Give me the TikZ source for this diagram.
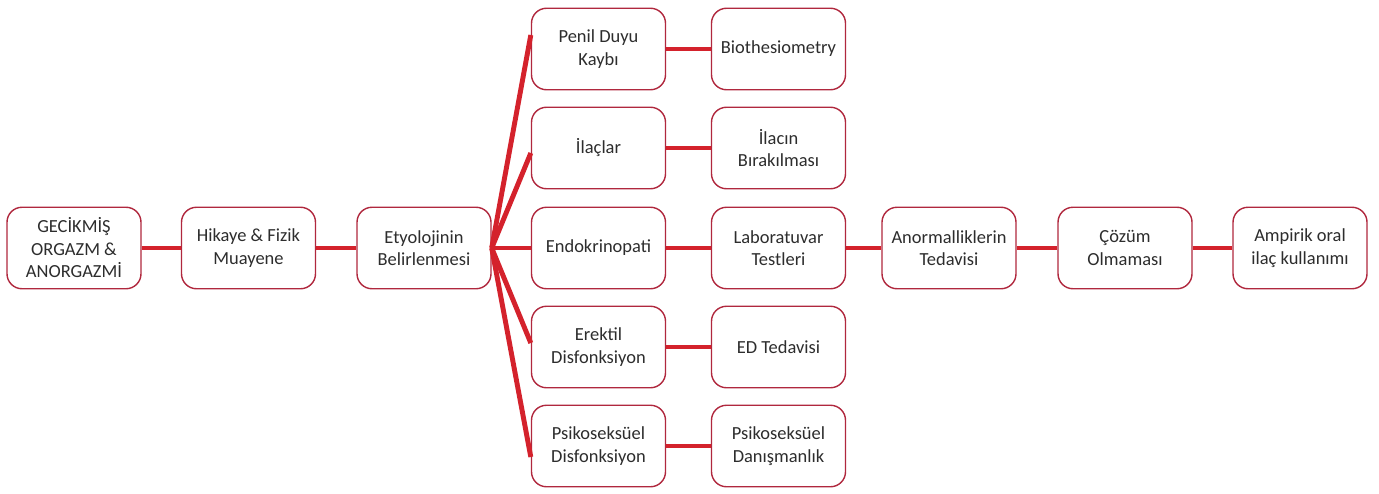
\documentclass[tikz,border=0pt]{standalone}
\usepackage{fontspec}
\setmainfont{Carlito}
\usepackage{tikz}
\definecolor{boxred}{RGB}{176,40,62}
\definecolor{linkred}{RGB}{212,34,44}
\definecolor{txtgray}{RGB}{45,45,45}
\tikzset{box/.style={draw=boxred, line width=0.8pt, rounded corners=0.3cm, fill=white,
    minimum width=2.68cm, minimum height=1.63cm, align=center, text=txtgray,
    font=\fontsize{10.5pt}{12.8pt}\selectfont}}
\tikzset{link/.style={draw=linkred, line width=2.8pt}}

\begin{document}
\begin{tikzpicture}
    \useasboundingbox (0, 0) rectangle (27.58, 9.86);
    \node[box] (gecikmis) at (1.48, 4.90) {GEC\.{I}KM\.{I}Ş\\ORGAZM \&\\ANORGAZM\.{I}};
    \node[box] (hikaye) at (4.97, 4.90) {Hikaye \& Fizik\\Muayene};
    \node[box] (etyoloji) at (8.48, 4.90) {Etyolojinin\\Belirlenmesi};
    \node[box] (penil) at (11.97, 8.88) {Penil Duyu\\Kaybı};
    \node[box] (ilaclar) at (11.97, 6.90) {\.{I}laçlar};
    \node[box] (endo) at (11.97, 4.90) {Endokrinopati};
    \node[box] (erektil) at (11.97, 2.92) {Erektil\\Disfonksiyon};
    \node[box] (psiko) at (11.97, 0.94) {Psikoseksüel\\Disfonksiyon};
    \node[box] (bio) at (15.57, 8.88) {Biothesiometry};
    \node[box] (birakma) at (15.57, 6.90) {\.{I}lacın\\Bırakılması};
    \node[box] (lab) at (15.57, 4.90) {Laboratuvar\\Testleri};
    \node[box] (edtedavi) at (15.57, 2.92) {ED Tedavisi};
    \node[box] (danisma) at (15.57, 0.94) {Psikoseksüel\\Danışmanlık};
    \node[box] (anormal) at (18.98, 4.90) {Anormalliklerin\\Tedavisi};
    \node[box] (cozum) at (22.50, 4.90) {Çözüm\\Olmaması};
    \node[box] (ampirik) at (26.00, 4.90) {Ampirik oral\\ilaç kullanımı};
    % main chain
    \draw[link] (gecikmis) -- (hikaye);
    \draw[link] (hikaye) -- (etyoloji);
    \draw[link] (etyoloji) -- (endo);
    \draw[link] (endo) -- (lab);
    \draw[link] (lab) -- (anormal);
    \draw[link] (anormal) -- (cozum);
    \draw[link] (cozum) -- (ampirik);
    % fan to causes
    \draw[link] (etyoloji.east) -- ([yshift=0.28cm]penil.west);
    \draw[link] (etyoloji.east) -- ([yshift=-0.1cm]ilaclar.west);
    \draw[link] (etyoloji.east) -- ([yshift=0.08cm]erektil.west);
    \draw[link] (etyoloji.east) -- ([yshift=-0.22cm]psiko.west);
    % causes to tests
    \draw[link] (penil) -- (bio);
    \draw[link] (ilaclar) -- (birakma);
    \draw[link] (erektil) -- (edtedavi);
    \draw[link] (psiko) -- (danisma);
\end{tikzpicture}
\end{document}
